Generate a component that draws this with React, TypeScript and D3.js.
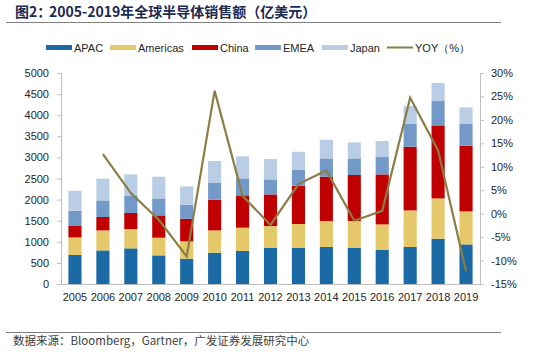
import * as d3 from "d3";
import { useEffect, useRef } from "react";

const years = ["2005", "2006", "2007", "2008", "2009", "2010", "2011", "2012", "2013", "2014", "2015", "2016", "2017", "2018", "2019"];
const apac = [687, 796, 844, 678, 600, 742, 782, 860, 860, 877, 860, 806, 877, 1073, 938];
const americas = [417, 474, 459, 419, 410, 528, 552, 514, 562, 616, 633, 606, 867, 955, 782];
const china = [270, 318, 379, 529, 537, 728, 766, 749, 907, 1050, 1090, 1185, 1510, 1730, 1557];
const emea = [363, 393, 418, 402, 332, 395, 402, 356, 372, 433, 393, 412, 537, 578, 514];
const japan = [474, 514, 497, 515, 434, 522, 522, 483, 434, 443, 379, 380, 427, 427, 394];
// YOY starts in 2006
const yoy = [null, 12.7, 4.4, -1.3, -9.1, 26.2, 3.8, -2.4, 6.3, 9.2, -1.5, 0.6, 24.7, 13.5, -12.3];

const leftTicks = [0, 500, 1000, 1500, 2000, 2500, 3000, 3500, 4000, 4500, 5000];
const rightTicks = [-15, -10, -5, 0, 5, 10, 15, 20, 25, 30];

const seriesNames = ["APAC", "Americas", "China", "EMEA", "Japan"];
const seriesColors = ["#1b6aa5", "#e5c86a", "#c00000", "#7399c9", "#b9cde5"];
const lineColor = "#8b7d45";

const sans = "'Liberation Sans', Arial, sans-serif";
const cjk = "'Noto Sans CJK SC', sans-serif";

export default function App() {
    const svgRef = useRef(null);

    useEffect(() => {
        const svg = d3.select(svgRef.current);
        svg.selectAll("*").remove();

        const width = 550;
        const height = 352;
        const margin = { top: 73, right: 70, bottom: 68, left: 61 };

        const rows = years.map((y, i) => ({
            year: y,
            APAC: apac[i],
            Americas: americas[i],
            China: china[i],
            EMEA: emea[i],
            Japan: japan[i],
        }));
        const stacked = d3.stack().keys(seriesNames)(rows);

        const x = d3
            .scaleBand()
            .domain(years)
            .range([margin.left, width - margin.right])
            .paddingInner(0.53)
            .paddingOuter(0.265);

        const y = d3
            .scaleLinear()
            .domain([0, 5000])
            .range([height - margin.bottom, margin.top]);

        const y2 = d3
            .scaleLinear()
            .domain([-15, 30])
            .range([height - margin.bottom, margin.top]);

        // title
        svg.append("text")
            .attr("x", 15)
            .attr("y", 17)
            .attr("font-family", cjk)
            .attr("font-weight", "bold")
            .attr("font-size", 14)
            .attr("fill", "#1d2a52")
            .text("图2：");
        svg.append("text")
            .attr("x", 49)
            .attr("y", 17)
            .attr("font-family", cjk)
            .attr("font-weight", "bold")
            .attr("font-size", 14)
            .attr("fill", "#1d2a52")
            .text("2005-2019年全球半导体销售额（亿美元）");
        svg.append("line")
            .attr("x1", 6).attr("x2", 501)
            .attr("y1", 22.5).attr("y2", 22.5)
            .attr("stroke", "#7f7f7f")
            .attr("stroke-width", 1);

        // legend
        const legendX = [46, 110, 192, 255, 322];
        seriesNames.forEach((name, i) => {
            svg.append("rect")
                .attr("x", legendX[i])
                .attr("y", 45)
                .attr("width", 26)
                .attr("height", 5)
                .attr("fill", seriesColors[i]);
            svg.append("text")
                .attr("x", legendX[i] + 28)
                .attr("y", 51.5)
                .attr("font-family", sans)
                .attr("font-size", 11)
                .attr("fill", "#262626")
                .text(name);
        });
        svg.append("line")
            .attr("x1", 387).attr("x2", 413)
            .attr("y1", 47.5).attr("y2", 47.5)
            .attr("stroke", lineColor)
            .attr("stroke-width", 2);
        svg.append("text")
            .attr("x", 415)
            .attr("y", 51.5)
            .attr("font-family", sans)
            .attr("font-size", 11)
            .attr("fill", "#262626")
            .text("YOY（%）");

        // bars
        svg.append("g")
            .selectAll("g")
            .data(stacked)
            .join("g")
            .attr("fill", (d, i) => seriesColors[i])
            .selectAll("rect")
            .data(d => d)
            .join("rect")
            .attr("x", d => x(d.data.year))
            .attr("y", d => y(d[1]))
            .attr("width", x.bandwidth())
            .attr("height", d => y(d[0]) - y(d[1]));

        // left axis
        const left = svg.append("g")
            .attr("transform", `translate(${margin.left}, 0)`)
            .call(d3.axisLeft(y).tickValues(leftTicks).tickSize(4).tickPadding(8).tickFormat(d3.format("d")));
        left.select(".domain").attr("stroke", "#bfbfbf");
        left.selectAll(".tick line").attr("stroke", "#bfbfbf");
        left.selectAll("text")
            .attr("font-family", sans)
            .attr("font-size", 11)
            .attr("fill", "#262626");

        // right axis
        const right = svg.append("g")
            .attr("transform", `translate(${width - margin.right}, 0)`)
            .call(d3.axisRight(y2).tickValues(rightTicks).tickSize(4).tickPadding(7).tickFormat(d => `${d}%`));
        right.select(".domain").attr("stroke", "#bfbfbf");
        right.selectAll(".tick line").attr("stroke", "#bfbfbf");
        right.selectAll("text")
            .attr("font-family", sans)
            .attr("font-size", 11)
            .attr("fill", "#262626");

        // bottom axis
        svg.append("line")
            .attr("x1", margin.left).attr("x2", width - margin.right)
            .attr("y1", y(0) + 0.5).attr("y2", y(0) + 0.5)
            .attr("stroke", "#bfbfbf");
        svg.append("g")
            .selectAll("text")
            .data(years)
            .join("text")
            .attr("x", d => x(d) + x.bandwidth() / 2)
            .attr("y", y(0) + 17)
            .attr("text-anchor", "middle")
            .attr("font-family", sans)
            .attr("font-size", 11)
            .attr("fill", "#262626")
            .text(d => d);

        // YOY line
        const line = d3.line()
            .defined(d => d[1] != null)
            .x(d => x(d[0]) + x.bandwidth() / 2)
            .y(d => y2(d[1]));
        svg.append("path")
            .datum(years.map((yr, i) => [yr, yoy[i]]))
            .attr("d", line)
            .attr("fill", "none")
            .attr("stroke", lineColor)
            .attr("stroke-width", 2.2)
            .attr("stroke-linejoin", "miter");

        // footer
        svg.append("line")
            .attr("x1", 6).attr("x2", 501)
            .attr("y1", 332.5).attr("y2", 332.5)
            .attr("stroke", "#7f7f7f")
            .attr("stroke-width", 1);
        svg.append("text")
            .attr("x", 13)
            .attr("y", 345)
            .attr("font-family", cjk)
            .attr("font-size", 11.5)
            .attr("fill", "#404040")
            .text("数据来源：Bloomberg，Gartner，广发证券发展研究中心");
    }, []);

    return (
        <svg
            ref={svgRef}
            width={550}
            height={352}
            style={{ position: "absolute", left: 0, top: 0, background: "#fff" }}
        />
    );
}
